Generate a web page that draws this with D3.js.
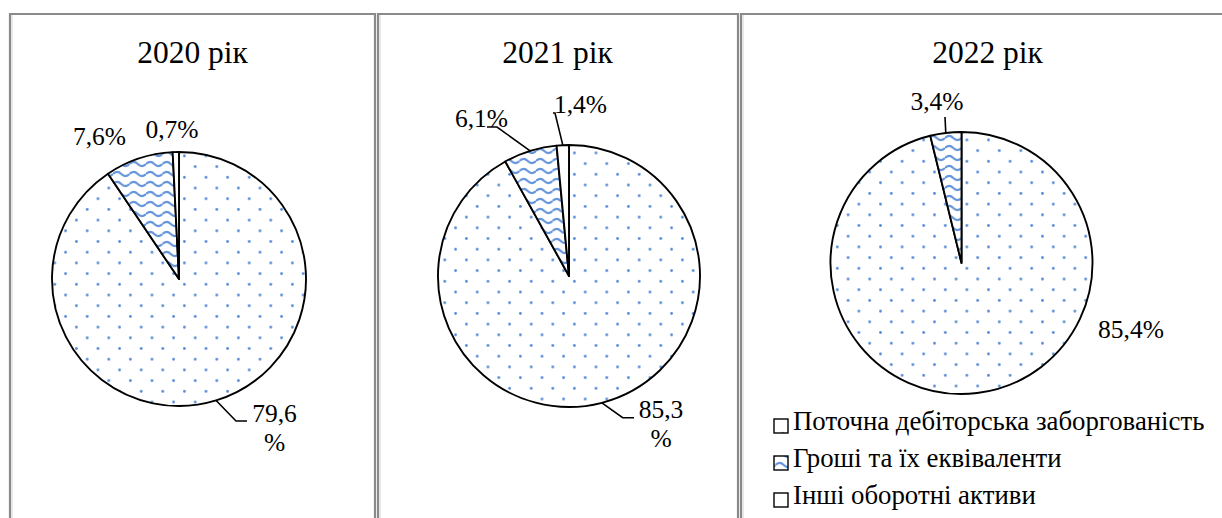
<!DOCTYPE html>
<html lang="uk">
<head>
<meta charset="utf-8">
<script src="https://cdn.jsdelivr.net/npm/d3@7"></script>
<style>
  html, body { margin: 0; padding: 0; background: #fff; }
  svg { display: block; }
</style>
</head>
<body>
<svg id="chart" width="1222" height="518"></svg>
<script>
// Структура оборотних активів, % (2020–2022)
const years = ["2020 рік", "2021 рік", "2022 рік"];
const categories = [
  "Поточна дебіторська заборгованість",
  "Гроші та їх еквіваленти",
  "Інші оборотні активи"
];
const receivables = [79.6, 85.3, 85.4];
const cash = [7.6, 6.1, 3.4];
const otherAssets = [0.7, 1.4, 0];
const series = [receivables, cash, otherAssets];

const FONT = "Liberation Serif";

// Layout of the three panels: frame, pie centre and radius, title position
const panels = [
  { x0: 10,  x1: 375,  cx: 179,   cy: 279, r: 127, titleX: 192.5 },
  { x0: 378, x1: 738,  cx: 569,   cy: 276, r: 131, titleX: 557.5 },
  { x0: 741, x1: 1240, cx: 961.5, cy: 263, r: 131, titleX: 987.5 }
];

// Label placement per panel and category: text centre, wrap, leader elbow/end
const labelLayout = [
  [
    { x: 274.5, y: 421.7, wrap: true, leader: [[236, 421], [247, 421]] },
    { x: 99.5,  y: 145 },
    { x: 172,   y: 137.5 }
  ],
  [
    { x: 661,   y: 417.7, wrap: true, leader: [[622.7, 417.7], [634, 417.7]] },
    { x: 481.5, y: 126.7, leader: [[497, 127], [487, 127]] },
    { x: 580.5, y: 113,   leader: [[555, 113], [553, 113]] }
  ],
  [
    { x: 1131,  y: 338 },
    { x: 937,   y: 110,   leader: [[945, 117]] },
    null
  ]
];

const svg = d3.select("#chart");
const defs = svg.append("defs");
const blue = "#5288d6";

// Sparse dot fill
const dots = defs.append("pattern")
  .attr("id", "pat-dots").attr("patternUnits", "userSpaceOnUse")
  .attr("width", 21.6).attr("height", 21.4);
dots.append("rect").attr("width", 21.6).attr("height", 21.4).attr("fill", "#fff");
[[5.4, 5.35], [16.2, 16.05]].forEach(([x, y]) =>
  dots.append("circle").attr("cx", x).attr("cy", y).attr("r", 1.4).attr("fill", blue));

// Wave fill
const wave = defs.append("pattern")
  .attr("id", "pat-wave").attr("patternUnits", "userSpaceOnUse")
  .attr("width", 16.5).attr("height", 10);
wave.append("rect").attr("width", 16.5).attr("height", 10).attr("fill", "#fff");
wave.append("path")
  .attr("d", "M0,5 C2.6,2.2 5.65,2.2 8.25,5 C10.85,7.8 13.9,7.8 16.5,5")
  .attr("fill", "none").attr("stroke", "#6796da").attr("stroke-width", 2.1);

// Very sparse dot fill
const sparse = defs.append("pattern")
  .attr("id", "pat-sparse").attr("patternUnits", "userSpaceOnUse")
  .attr("x", 774).attr("y", 419)
  .attr("width", 43).attr("height", 43);
sparse.append("rect").attr("width", 43).attr("height", 43).attr("fill", "#fff");
sparse.append("circle").attr("cx", 6).attr("cy", 11.5).attr("r", 1.2).attr("fill", blue);

const fills = ["url(#pat-dots)", "url(#pat-wave)", "url(#pat-sparse)"];

const pie = d3.pie().sort(null).value(d => d.value);
const fmt = v => d3.format(".1f")(v).replace(".", ",");

panels.forEach((p, i) => {
  const g = svg.append("g");

  // Panel frame (open at the bottom)
  g.append("path")
    .attr("d", `M${p.x0},520 V14 H${p.x1} V520`)
    .attr("fill", "none").attr("stroke", "#8a8a8a").attr("stroke-width", 2.2);
  g.append("line")
    .attr("x1", p.x0 + 2).attr("x2", p.x0 + 2).attr("y1", 15).attr("y2", 520)
    .attr("stroke", "#d4d4d4").attr("stroke-width", 1);

  g.append("text")
    .attr("x", p.titleX).attr("y", 63)
    .attr("text-anchor", "middle")
    .attr("font-family", FONT).attr("font-size", 31.5).attr("fill", "#000")
    .text(years[i]);

  const data = categories.map((c, k) => ({ k, name: c, value: series[k][i] }))
    .filter(d => d.value > 0);
  const arcs = pie(data);
  const arc = d3.arc().innerRadius(0).outerRadius(p.r);
  const rim = d3.arc().innerRadius(p.r).outerRadius(p.r);

  const pg = g.append("g").attr("transform", `translate(${p.cx},${p.cy})`);
  pg.selectAll("path.slice").data(arcs).join("path")
    .attr("class", "slice")
    .attr("d", arc)
    .attr("fill", d => fills[d.data.k])
    .attr("stroke", "#000").attr("stroke-width", 1.9)
    .attr("stroke-linejoin", "round");

  arcs.forEach(d => {
    const lay = labelLayout[i][d.data.k];
    if (!lay) return;
    if (lay.leader) {
      const c = rim.centroid(d);
      const pts = [[p.cx + c[0], p.cy + c[1]], ...lay.leader];
      g.append("path")
        .attr("d", d3.line()(pts))
        .attr("fill", "none").attr("stroke", "#000").attr("stroke-width", 1.6);
    }
    const t = g.append("text")
      .attr("x", lay.x).attr("y", lay.y)
      .attr("text-anchor", "middle")
      .attr("font-family", FONT).attr("font-size", 25.5).attr("fill", "#000");
    if (lay.wrap) {
      t.append("tspan").attr("x", lay.x).text(fmt(d.data.value));
      t.append("tspan").attr("x", lay.x).attr("dy", 29.5).text("%");
    } else {
      t.text(fmt(d.data.value) + "%");
    }
  });
});

// Legend
const legend = svg.append("g");
categories.forEach((c, k) => {
  const y = 430 + k * 37;
  legend.append("rect")
    .attr("x", 774).attr("y", y - 11).attr("width", 14).attr("height", 14)
    .attr("fill", fills[k]).attr("stroke", "#000").attr("stroke-width", 1.4);
  legend.append("text")
    .attr("x", 793).attr("y", y)
    .attr("font-family", FONT).attr("font-size", 26.8).attr("fill", "#000")
    .text(c);
});
</script>
</body>
</html>
